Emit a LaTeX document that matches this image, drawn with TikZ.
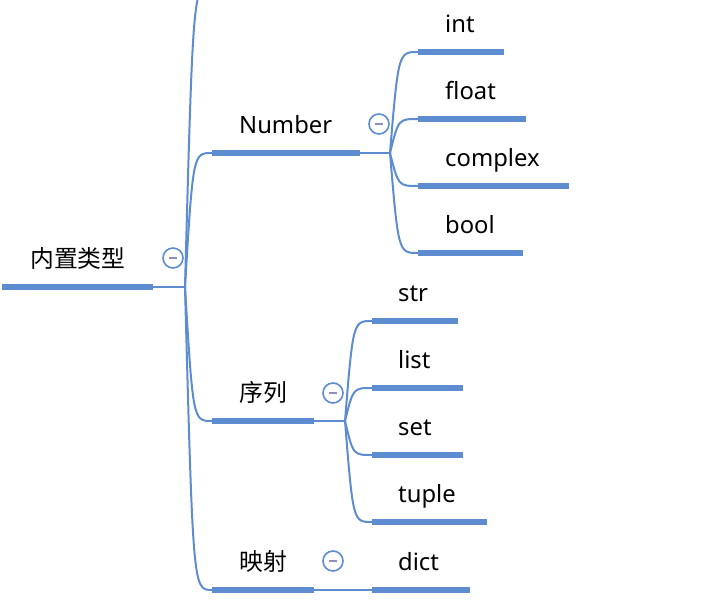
\documentclass[tikz,border=0pt]{standalone}
\usepackage{fontspec}
\usetikzlibrary{calc}
\setmainfont{Noto Sans}
\newfontfamily\cjk{Noto Sans CJK SC}
\definecolor{mapblue}{RGB}{93,140,208}
\definecolor{minusgray}{RGB}{140,143,190}
\tikzset{
  bar/.style={mapblue, line width=6pt},
  conn/.style={mapblue, line width=2pt},
  lbl/.style={inner sep=0pt, anchor=base west, font=\fontsize{23.8}{28}\selectfont},
  fold/.style={circle, draw=mapblue, line width=1.6pt, fill=white, minimum size=20pt, inner sep=0pt},
}
% curved branch from a joint to the left end of a child bar
\newcommand{\branch}[2]{\draw[conn] (#1) .. controls ($(#1 |- #2)!0.3!(#2)$) .. (#2);}
\begin{document}
\begin{tikzpicture}[x=1pt, y=-1pt]
    \useasboundingbox (0,0) rectangle (716,612);
    \clip (0,0) rectangle (716,612);

    % Root
    \coordinate (rootL) at (2,287);
    \coordinate (rootR) at (153,287);
    \coordinate (rootJ) at (185,287);
    \node[lbl] (root) at (30,268) {\cjk 内置类型};
    \draw[bar] (rootL) -- (rootR);
    \draw[conn] (rootR) -- (rootJ);
    \node[fold] (rootF) at (173,258) {};
    \draw[minusgray, line width=1.6pt] ([xshift=-4pt]rootF.center) -- ([xshift=4pt]rootF.center);

    % Branch above (cut off)
    \coordinate (topL) at (212,-15);
    \branch{rootJ}{topL}

    % Number
    \coordinate (numL) at (212,153);
    \coordinate (numR) at (360,153);
    \coordinate (numJ) at (390,153);
    \node[lbl] (num) at (239,134) {Number};
    \draw[bar] (numL) -- (numR);
    \branch{rootJ}{numL}
    \draw[conn] (numR) -- (numJ);
    \node[fold] (numF) at (379,124) {};
    \draw[minusgray, line width=1.6pt] ([xshift=-4pt]numF.center) -- ([xshift=4pt]numF.center);

    \coordinate (intL) at (418,52);
    \coordinate (intR) at (504,52);
    \node[lbl] (int) at (445,33) {int};
    \draw[bar] (intL) -- (intR);
    \branch{numJ}{intL}

    \coordinate (floatL) at (418,119);
    \coordinate (floatR) at (526,119);
    \node[lbl] (float) at (445,100) {float};
    \draw[bar] (floatL) -- (floatR);
    \branch{numJ}{floatL}

    \coordinate (cplxL) at (418,186);
    \coordinate (cplxR) at (569,186);
    \node[lbl] (cplx) at (445,167) {complex};
    \draw[bar] (cplxL) -- (cplxR);
    \branch{numJ}{cplxL}

    \coordinate (boolL) at (418,253);
    \coordinate (boolR) at (523,253);
    \node[lbl] (bool) at (445,234) {bool};
    \draw[bar] (boolL) -- (boolR);
    \branch{numJ}{boolL}

    % Sequence
    \coordinate (seqL) at (212,421);
    \coordinate (seqR) at (314,421);
    \coordinate (seqJ) at (345,421);
    \node[lbl] (seq) at (239,402) {\cjk 序列};
    \draw[bar] (seqL) -- (seqR);
    \branch{rootJ}{seqL}
    \draw[conn] (seqR) -- (seqJ);
    \node[fold] (seqF) at (333,393) {};
    \draw[minusgray, line width=1.6pt] ([xshift=-4pt]seqF.center) -- ([xshift=4pt]seqF.center);

    \coordinate (strL) at (372,321);
    \coordinate (strR) at (458,321);
    \node[lbl] (str) at (398,302) {str};
    \draw[bar] (strL) -- (strR);
    \branch{seqJ}{strL}

    \coordinate (listL) at (372,388);
    \coordinate (listR) at (463,388);
    \node[lbl] (list) at (398,369) {list};
    \draw[bar] (listL) -- (listR);
    \branch{seqJ}{listL}

    \coordinate (setL) at (372,455);
    \coordinate (setR) at (463,455);
    \node[lbl] (set) at (398,436) {set};
    \draw[bar] (setL) -- (setR);
    \branch{seqJ}{setL}

    \coordinate (tupL) at (372,522);
    \coordinate (tupR) at (487,522);
    \node[lbl] (tup) at (398,503) {tuple};
    \draw[bar] (tupL) -- (tupR);
    \branch{seqJ}{tupL}

    % Mapping
    \coordinate (mapL) at (212,590);
    \coordinate (mapR) at (314,590);
    \node[lbl] (map) at (239,571) {\cjk 映射};
    \draw[bar] (mapL) -- (mapR);
    \branch{rootJ}{mapL}
    \node[fold] (mapF) at (333,561) {};
    \draw[minusgray, line width=1.6pt] ([xshift=-4pt]mapF.center) -- ([xshift=4pt]mapF.center);

    \coordinate (dictL) at (372,590);
    \coordinate (dictR) at (470,590);
    \node[lbl] (dict) at (398,571) {dict};
    \draw[bar] (dictL) -- (dictR);
    \draw[conn] (mapR) -- (dictL);
\end{tikzpicture}
\end{document}
